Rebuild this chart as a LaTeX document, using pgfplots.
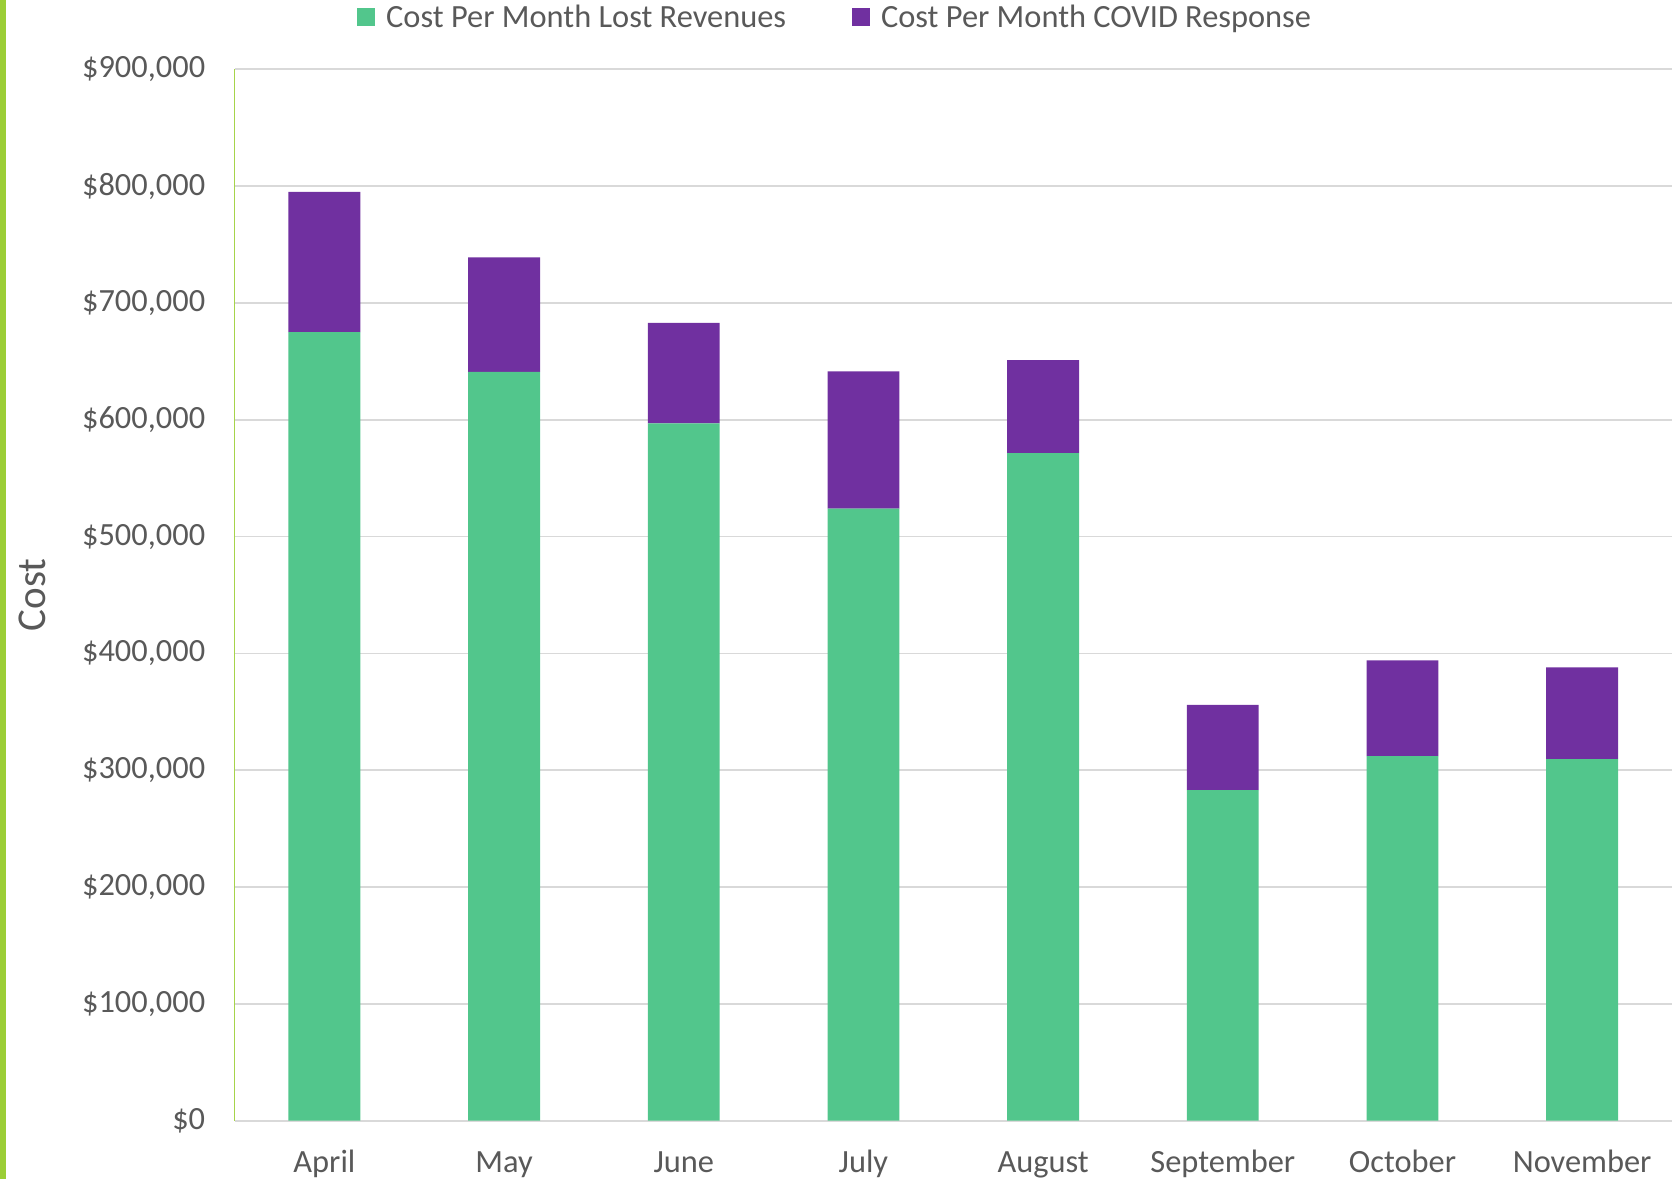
\documentclass[border=0pt]{standalone}
\usepackage{fontspec}
\setmainfont{Carlito}
\usepackage{pgfplots}
\pgfplotsset{compat=1.18}
\definecolor{lostgreen}{HTML}{52C68C}
\definecolor{covidpurple}{HTML}{7030A0}
\definecolor{txtgray}{HTML}{595959}
\definecolor{gridgray}{HTML}{D9D9D9}
\definecolor{axgreen}{HTML}{A6D44A}
\definecolor{edgegreen}{HTML}{9BCE36}
\newcommand\cf{\fontsize{16.2pt}{19pt}\selectfont}
\begin{document}
\begin{tikzpicture}
\begin{axis}[
  name=ax, at={(0,0)}, anchor=south west,
  scale only axis, width=718.7pt, height=525.7pt,
  ybar stacked, bar width=0.4,
  xmin=-0.5, xmax=7.5, ymin=0, ymax=900000,
  scaled y ticks=false,
  xtick={0,...,7},
  xticklabels={April,May,June,July,August,September,October,November},
  ytick={0,100000,...,900000},
  yticklabels={{\$0},{\$100,000},{\$200,000},{\$300,000},{\$400,000},{\$500,000},{\$600,000},{\$700,000},{\$800,000},{\$900,000}},
  major tick length=0pt,
  axis x line*=bottom, axis y line*=left,
  x axis line style={gridgray, line width=0.8pt, -},
  y axis line style={axgreen, line width=0.8pt, -},
  ymajorgrids, grid style={gridgray, line width=0.8pt},
  tick label style={font=\cf, text=txtgray},
  xticklabel style={anchor=base, yshift=-26pt},
  yticklabel style={anchor=east, xshift=-11.2pt},
  ylabel={Cost},
  ylabel style={font=\fontsize{20.5pt}{24pt}\selectfont, text=txtgray},
  every axis y label/.append style={at={(axis description cs:-0.141,0.5)}, anchor=center},
  legend columns=2,
  legend style={at={(axis description cs:0.4185,1.0495)}, anchor=center, draw=none, fill=none,
    font=\cf, text=txtgray, /tikz/every even column/.append style={column sep=31pt}},
  legend image code/.code={\fill[#1] (0pt,-4.5pt) rectangle (9pt,4.5pt); \path (12.5pt,0pt);},
]
\addplot[fill=lostgreen, draw=none] coordinates {
 (0,675000) (1,641000) (2,597000) (3,524000) (4,571500) (5,283000) (6,312000) (7,309500)};
\addlegendentry{Cost Per Month Lost Revenues}
\addplot[fill=covidpurple, draw=none] coordinates {
 (0,120000) (1,98000) (2,86000) (3,117500) (4,79500) (5,73000) (6,82000) (7,78500)};
\addlegendentry{Cost Per Month COVID Response}
\end{axis}
\fill[edgegreen] (-117.3pt,-29.15pt) rectangle (-114.3pt,560.35pt);
\pgfresetboundingbox
\useasboundingbox (-117.3pt,-29.15pt) rectangle (718.7pt,560.35pt);
\end{tikzpicture}
\end{document}
